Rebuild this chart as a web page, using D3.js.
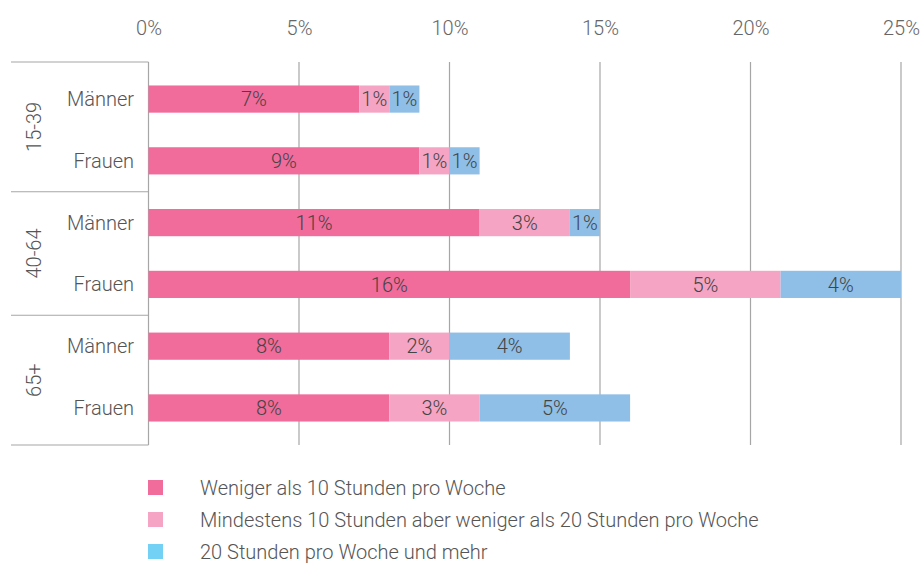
<!DOCTYPE html>
<html>
<head>
<meta charset="utf-8">
<script src="https://cdn.jsdelivr.net/npm/d3@7"></script>
<style>
  body { margin: 0; background: #fff; }
  svg text { font-family: Roboto, "Noto Sans", sans-serif; font-weight: 300; }
</style>
</head>
<body>
<svg id="chart" width="924" height="563"></svg>
<script>
// data
var groups = ["15-39", "40-64", "65+"];
var sexes = ["Männer", "Frauen"];
var seriesNames = [
    "Weniger als 10 Stunden pro Woche",
    "Mindestens 10 Stunden aber weniger als 20 Stunden pro Woche",
    "20 Stunden pro Woche und mehr"
];
// one value per row: 15-39 M, 15-39 F, 40-64 M, 40-64 F, 65+ M, 65+ F
var under10 = [7, 9, 11, 16, 8, 8];
var from10to20 = [1, 1, 3, 5, 2, 3];
var over20 = [1, 1, 1, 4, 4, 5];
var xTicks = [0, 5, 10, 15, 20, 25];

var barColors = ["#f16b9b", "#f5a5c3", "#8fbfe6"];
var legendColors = ["#f16b9b", "#f5a5c3", "#73d1f5"];

var svg = d3.select("#chart");
var margin = { top: 62, left: 148.5, bottom: 118, right: 23 };
var width = 924;
var height = 563;

// build rows
var rows = [];
groups.forEach(function (g, gi) {
    sexes.forEach(function (s, si) {
        var i = gi * 2 + si;
        rows.push({ key: g + "|" + s, group: g, sex: s, values: [under10[i], from10to20[i], over20[i]] });
    });
});

var x = d3.scaleLinear().domain([0, 25]).range([margin.left, width - margin.right]);
var y = d3.scaleBand()
    .domain(rows.map(function (d) { return d.key; }))
    .range([margin.top, height - margin.bottom])
    .paddingInner(0.56)
    .paddingOuter(0.38);

// grid lines
svg.append("g")
    .selectAll("line")
    .data(xTicks)
    .enter().append("line")
    .attr("x1", function (d) { return x(d); })
    .attr("x2", function (d) { return x(d); })
    .attr("y1", margin.top)
    .attr("y2", height - margin.bottom)
    .attr("stroke", "#a6a6a6")
    .attr("stroke-width", 1.2);

// top axis labels
var xAxis = d3.axisTop(x).tickValues(xTicks).tickSize(0).tickFormat(function (d) { return d + "%"; });
var ax = svg.append("g")
    .attr("transform", "translate(0,38)")
    .call(xAxis);
ax.select(".domain").remove();
ax.selectAll("text")
    .attr("fill", "#666")
    .style("font-size", "20px");

// group separators on the left
var seps = [margin.top];
for (var gi = 1; gi < groups.length; gi++) {
    var prev = rows[gi * 2 - 1].key, next = rows[gi * 2].key;
    seps.push((y(prev) + y.bandwidth() + y(next)) / 2);
}
seps.push(height - margin.bottom);

svg.append("g")
    .selectAll("line")
    .data(seps)
    .enter().append("line")
    .attr("x1", 11)
    .attr("x2", margin.left)
    .attr("y1", function (d) { return d; })
    .attr("y2", function (d) { return d; })
    .attr("stroke", "#a6a6a6")
    .attr("stroke-width", 1.2);

// group labels
svg.append("g")
    .selectAll("text")
    .data(groups)
    .enter().append("text")
    .attr("transform", function (d, i) {
        return "translate(" + 41 + "," + ((seps[i] + seps[i + 1]) / 2) + ") rotate(-90)";
    })
    .attr("text-anchor", "middle")
    .attr("fill", "#555")
    .style("font-size", "20px")
    .text(function (d) { return d; });

// row labels
svg.append("g")
    .selectAll("text")
    .data(rows)
    .enter().append("text")
    .attr("x", 134)
    .attr("y", function (d) { return y(d.key) + y.bandwidth() / 2; })
    .attr("dy", "0.35em")
    .attr("text-anchor", "end")
    .attr("fill", "#555")
    .style("font-size", "20px")
    .text(function (d) { return d.sex; });

// stacked bars
var segs = [];
rows.forEach(function (r) {
    var acc = 0;
    r.values.forEach(function (v, k) {
        segs.push({ key: r.key, x0: acc, x1: acc + v, v: v, k: k });
        acc += v;
    });
});

var bars = svg.append("g");
bars.selectAll("rect")
    .data(segs)
    .enter().append("rect")
    .attr("x", function (d) { return x(d.x0); })
    .attr("width", function (d) { return x(d.x1) - x(d.x0); })
    .attr("y", function (d) { return y(d.key); })
    .attr("height", y.bandwidth())
    .attr("fill", function (d) { return barColors[d.k]; });

bars.selectAll("text")
    .data(segs)
    .enter().append("text")
    .attr("x", function (d) { return (x(d.x0) + x(d.x1)) / 2; })
    .attr("y", function (d) { return y(d.key) + y.bandwidth() / 2; })
    .attr("dy", "0.36em")
    .attr("text-anchor", "middle")
    .attr("fill", "#444")
    .style("font-size", "20px")
    .text(function (d) { return d.v + "%"; });

// legend
var legend = svg.append("g")
    .selectAll("g")
    .data(seriesNames)
    .enter().append("g")
    .attr("transform", function (d, i) { return "translate(148," + (480 + i * 32) + ")"; });

legend.append("rect")
    .attr("width", 15)
    .attr("height", 15)
    .attr("fill", function (d, i) { return legendColors[i]; });

legend.append("text")
    .attr("x", 52)
    .attr("y", 7.5)
    .attr("dy", "0.35em")
    .attr("fill", "#555")
    .style("font-size", "20px")
    .text(function (d) { return d; });
</script>
</body>
</html>
